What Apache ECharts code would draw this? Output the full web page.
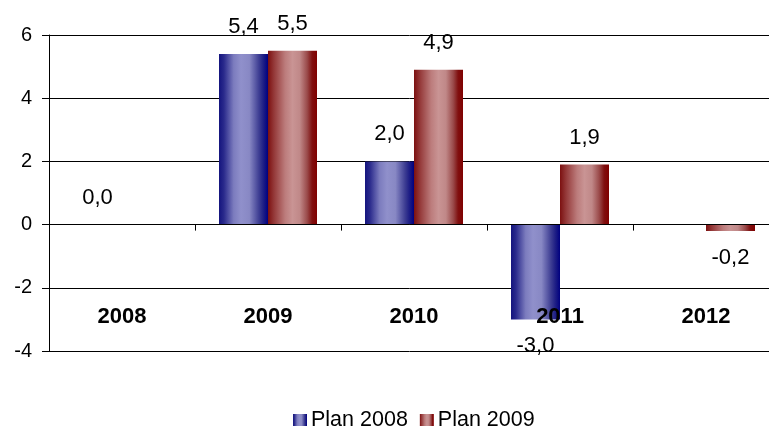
<!DOCTYPE html>
<html>
<head>
<meta charset="utf-8">
<script src="https://cdn.jsdelivr.net/npm/echarts@6/dist/echarts.min.js"></script>
<style>
html,body{margin:0;padding:0;background:#fff;}
#chart{width:769px;height:426px;}
</style>
</head>
<body>
<div id="chart"></div>
<script>
var categories = ['2008', '2009', '2010', '2011', '2012'];
var plan2008 = [0.0, 5.4, 2.0, -3.0, null];
var plan2009 = [null, 5.5, 4.9, 1.9, -0.2];
var seriesNames = ['Plan 2008', 'Plan 2009'];
var yTicks = { min: -4, max: 6, interval: 2 };

var FONT = 'Liberation Sans, Arial, sans-serif';

function grad(stops) {
  return new echarts.graphic.LinearGradient(0, 0, 1, 0, stops.map(function (s) {
    return { offset: s[0], color: s[1] };
  }));
}
var blueGrad = grad([[0, '#14147e'], [0.1, '#2a2a8c'], [0.3, '#7c7cbe'], [0.45, '#9090cb'], [0.62, '#8888c4'], [0.82, '#3c3c92'], [0.9, '#202086'], [1, '#000080']]);
var redGrad = grad([[0, '#7c1010'], [0.12, '#943838'], [0.35, '#bc7c7c'], [0.5, '#c99494'], [0.65, '#c08888'], [0.8, '#9a4a4a'], [0.9, '#801010'], [1, '#800000']]);

function fmt(v) { return v.toFixed(1).replace('.', ','); }

function buildData(arr) {
  return arr.map(function (v) {
    if (v === null) return null;
    return {
      value: v,
      label: { position: v < 0 ? 'bottom' : 'top' }
    };
  });
}

function makeSeries(name, arr, color) {
  return {
    name: name,
    type: 'bar',
    barWidth: 49,
    barGap: '0%',
    itemStyle: { color: color },
    label: {
      show: true,
      distance: 16,
      fontFamily: FONT,
      fontSize: 22,
      color: '#000',
      formatter: function (p) { return fmt(p.value); }
    },
    data: buildData(arr)
  };
}

var chart = echarts.init(document.getElementById('chart'));
chart.setOption({
  backgroundColor: '#fff',
  animation: false,
  grid: { left: 49, right: -10, top: 35, bottom: 75, containLabel: false, outerBoundsMode: 'none' },
  legend: {
    data: seriesNames,
    left: 288,
    top: 404,
    icon: 'rect',
    itemWidth: 14,
    itemHeight: 12,
    itemGap: 12,
    textStyle: { fontFamily: FONT, fontSize: 21.5, color: '#000', padding: [0, 0, 0, -1] }
  },
  xAxis: {
    type: 'category',
    data: categories,
    z: 10,
    axisLine: { onZero: true, lineStyle: { color: '#000', width: 1 } },
    axisTick: { show: true, length: 6, alignWithLabel: false, lineStyle: { color: '#000' } },
    axisLabel: { margin: -45, fontFamily: FONT, fontSize: 22, fontWeight: 'bold', color: '#000' },
    splitLine: { show: false }
  },
  yAxis: {
    type: 'value',
    min: yTicks.min,
    max: yTicks.max,
    interval: yTicks.interval,
    axisLine: { show: true, lineStyle: { color: '#000', width: 1 } },
    axisTick: { show: true, length: 7, lineStyle: { color: '#000' } },
    axisLabel: { margin: 17, fontFamily: FONT, fontSize: 20, color: '#000',
      formatter: function (v) { return String(v); } },
    splitLine: { show: true, lineStyle: { color: '#000', width: 1 } }
  },
  series: [
    makeSeries(seriesNames[0], plan2008, blueGrad),
    makeSeries(seriesNames[1], plan2009, redGrad)
  ]
});
</script>
</body>
</html>
